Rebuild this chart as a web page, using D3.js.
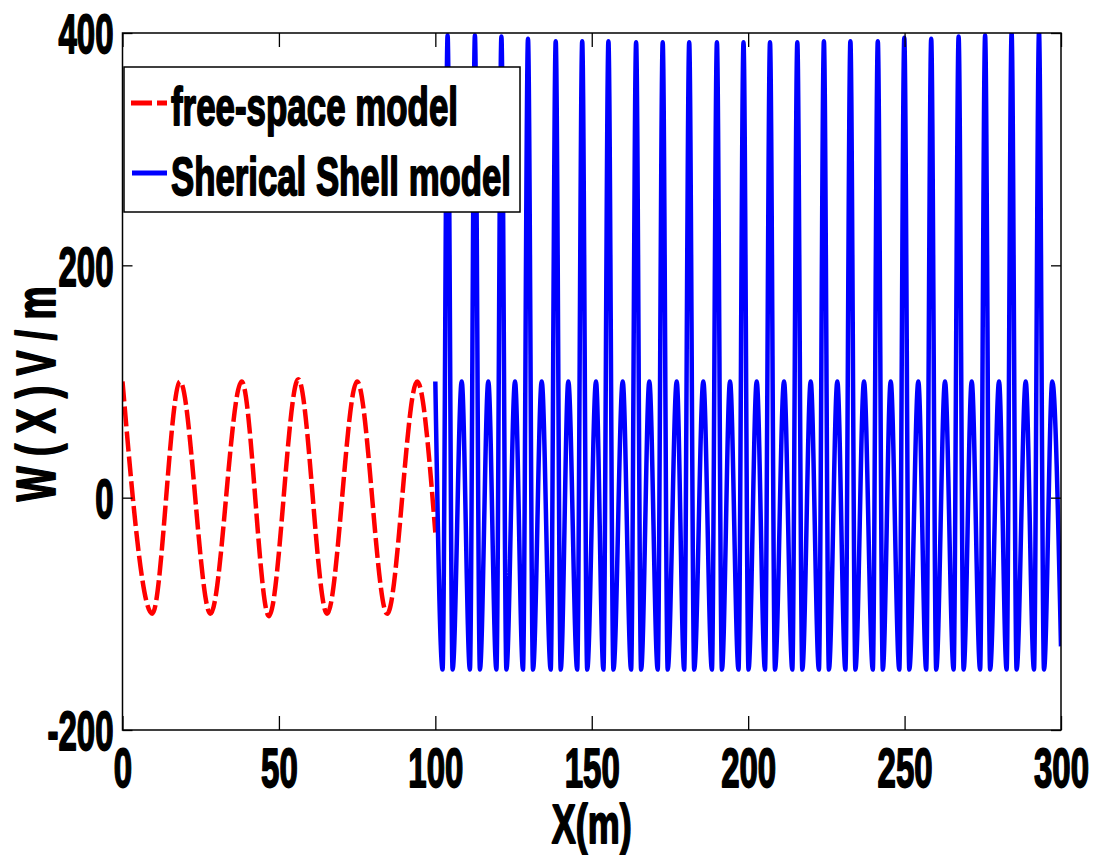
<!DOCTYPE html>
<html>
<head>
<meta charset="utf-8">
<script src="https://cdn.jsdelivr.net/npm/d3@7"></script>
<style>
  html, body { margin: 0; padding: 0; background: #ffffff; }
  svg { display: block; }
  .heavy { fill: #000; stroke: #000; stroke-width: 1.8px; stroke-linejoin: round; font-weight: bold; }
</style>
</head>
<body>
<svg id="chart" width="1095" height="855"></svg>
<script>
// Axis ticks
const xTicks = [0, 50, 100, 150, 200, 250, 300];
const yTicks = [-200, 0, 200, 400];

// Series labels and axis titles
const seriesNames = ["free-space model", "Sherical Shell model"];
const xTitle = "X(m)";
const yTitle = "W ( X ) V / m";

// Free-space model: turning points of the field, 0 to 100 m
const freeX = [0, 9.5, 18.4, 28.1, 38.1, 46.8, 56.2, 65.4, 75.0, 84.6, 94.2, 100];
const freeY = [100, -100, 100, -100, 100, -102, 102, -100, 100, -100, 100, -30];

// Spherical shell model: turning points of the field, 100 to 300 m
const shellX = [100.0,
  102.32, 103.92, 105.52, 108.43,
  111.05, 112.65, 114.25, 116.93,
  119.52, 121.12, 122.72, 125.47,
  128.02, 129.62, 131.22, 134.00,
  136.88, 138.48, 140.08, 142.51,
  145.35, 146.95, 148.55, 151.36,
  153.73, 155.33, 156.93, 159.90,
  162.58, 164.18, 165.78, 168.40,
  171.08, 172.68, 174.28, 177.16,
  179.55, 181.15, 182.75, 185.66,
  188.41, 190.01, 191.61, 194.20,
  196.91, 198.51, 200.11, 202.73,
  205.38, 206.98, 208.58, 211.46,
  214.11, 215.71, 217.31, 219.99,
  222.61, 224.21, 225.81, 228.50,
  231.08, 232.68, 234.28, 237.03,
  239.84, 241.44, 243.04, 245.56,
  248.31, 249.91, 251.51, 254.39,
  256.91, 258.51, 260.11, 262.92,
  265.67, 267.27, 268.87, 271.46,
  274.14, 275.74, 277.34, 280.19,
  282.61, 284.21, 285.81, 288.72,
  291.37, 292.97, 294.57, 297.22,
  300.0];
const shellY = [100,
  -148, 398, -148, 100,
  -148, 398, -148, 100,
  -148, 397, -148, 100,
  -148, 395, -148, 100,
  -148, 393, -148, 100,
  -148, 393, -148, 100,
  -148, 393, -148, 100,
  -148, 392, -148, 100,
  -148, 392, -148, 100,
  -148, 392, -148, 100,
  -148, 392, -148, 100,
  -148, 392, -148, 100,
  -148, 392, -148, 100,
  -148, 392, -148, 100,
  -148, 393, -148, 100,
  -148, 393, -148, 100,
  -148, 393, -148, 100,
  -148, 396, -148, 100,
  -148, 395, -148, 100,
  -148, 397, -148, 100,
  -148, 398, -148, 100,
  -148, 400, -148, 100,
  -148, 401, -148, 100,
  -128];

const FONT = "'Liberation Sans', Arial, Helvetica, sans-serif";
const SQUEEZE = 0.6; // narrow bold lettering of the tick labels

const svg = d3.select("#chart");
const box = { left: 122.5, right: 1061, top: 33, bottom: 730 };

const x = d3.scaleLinear().domain([0, 300]).range([box.left, box.right]);
const y = d3.scaleLinear().domain([-200, 400]).range([box.bottom, box.top]);

svg.append("rect").attr("width", 1095).attr("height", 855).attr("fill", "#ffffff");

svg.append("defs").append("clipPath").attr("id", "plot-clip")
  .append("rect")
  .attr("x", box.left).attr("y", box.top)
  .attr("width", box.right - box.left).attr("height", box.bottom - box.top);

// Curves
const plotArea = svg.append("g").attr("clip-path", "url(#plot-clip)");

const line = d3.line()
  .x(d => x(d[0]))
  .y(d => y(d[1]))
  .curve(d3.curveMonotoneX);

plotArea.append("path")
  .datum(freeX.map((v, i) => [v, freeY[i]]))
  .attr("d", line)
  .attr("fill", "none")
  .attr("stroke", "#ff0000")
  .attr("stroke-width", 4.5)
  .attr("stroke-dasharray", "20,5");

plotArea.append("path")
  .datum(shellX.map((v, i) => [v, shellY[i]]))
  .attr("d", line)
  .attr("fill", "none")
  .attr("stroke", "#0000ff")
  .attr("stroke-width", 4.5)
  .attr("stroke-linejoin", "round");

// Axes: inward ticks on all four sides
const fmt = d => String(d);

const gBottom = svg.append("g")
  .attr("transform", `translate(0,${box.bottom})`)
  .call(d3.axisBottom(x).tickValues(xTicks).tickSize(-14).tickFormat(fmt));
const gTop = svg.append("g")
  .attr("transform", `translate(0,${box.top})`)
  .call(d3.axisTop(x).tickValues(xTicks).tickSize(-14).tickFormat(""));
const gLeft = svg.append("g")
  .attr("transform", `translate(${box.left},0)`)
  .call(d3.axisLeft(y).tickValues(yTicks).tickSize(-10).tickFormat(fmt));
const gRight = svg.append("g")
  .attr("transform", `translate(${box.right},0)`)
  .call(d3.axisRight(y).tickValues(yTicks).tickSize(-10).tickFormat(""));

[gBottom, gTop, gLeft, gRight].forEach(g => {
  g.select(".domain").remove();
  g.selectAll(".tick line").attr("stroke", "#000").attr("stroke-width", 1.3);
});

gBottom.selectAll(".tick text")
  .attr("class", "heavy")
  .attr("x", 0).attr("y", 0).attr("dy", null)
  .attr("transform", `translate(0,57) scale(${SQUEEZE},1)`)
  .attr("text-anchor", "middle")
  .style("font-family", FONT).style("font-size", "55px");

gLeft.selectAll(".tick text")
  .attr("class", "heavy")
  .attr("x", 0).attr("dy", "0.36em")
  .attr("transform", `translate(-9,0) scale(${SQUEEZE},1)`)
  .attr("text-anchor", "end")
  .style("font-family", FONT).style("font-size", "55px");

svg.append("rect")
  .attr("x", box.left).attr("y", box.top)
  .attr("width", box.right - box.left).attr("height", box.bottom - box.top)
  .attr("fill", "none").attr("stroke", "#000").attr("stroke-width", 1.5);

// Axis titles
svg.append("text")
  .attr("class", "heavy")
  .attr("x", (box.left + box.right) / 2).attr("y", 843)
  .attr("text-anchor", "middle")
  .attr("textLength", 80).attr("lengthAdjust", "spacingAndGlyphs")
  .style("font-family", FONT).style("font-size", "55px")
  .text(xTitle);

svg.append("text")
  .attr("class", "heavy")
  .attr("transform", "translate(55,394) rotate(-90)")
  .attr("text-anchor", "middle")
  .attr("textLength", 215).attr("lengthAdjust", "spacingAndGlyphs")
  .style("font-family", FONT).style("font-size", "55px")
  .text(yTitle);

// Legend
const legend = svg.append("g");
legend.append("rect")
  .attr("x", 124).attr("y", 67).attr("width", 396).attr("height", 145)
  .attr("fill", "#ffffff").attr("stroke", "#000").attr("stroke-width", 1.5);

const legendRows = [
  { name: seriesNames[0], color: "#ff0000", dash: "21,5", y: 103, base: 125, len: 287, x1: 131, x2: 167 },
  { name: seriesNames[1], color: "#0000ff", dash: null, y: 173, base: 195, len: 340, x1: 132, x2: 167 }
];
legendRows.forEach(r => {
  legend.append("line")
    .attr("x1", r.x1).attr("x2", r.x2).attr("y1", r.y).attr("y2", r.y)
    .attr("stroke", r.color).attr("stroke-width", 5)
    .attr("stroke-dasharray", r.dash);
  legend.append("text")
    .attr("class", "heavy")
    .attr("x", 171).attr("y", r.base)
    .attr("textLength", r.len).attr("lengthAdjust", "spacingAndGlyphs")
    .style("font-family", FONT).style("font-size", "53px")
    .text(r.name);
});
</script>
</body>
</html>
